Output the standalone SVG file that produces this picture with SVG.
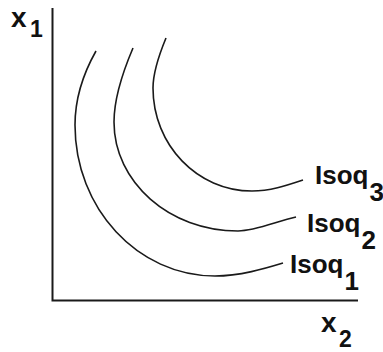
<svg xmlns="http://www.w3.org/2000/svg" width="383" height="352" viewBox="0 0 383 352">
<style>
.axis{stroke:#1a1a1a;stroke-width:2;fill:none}
.iso{stroke:#1a1a1a;stroke-width:1.6;fill:none}
.lbl{font-family:"Liberation Sans",Arial,sans-serif;font-weight:bold;font-size:26px;fill:#111}
.ax{font-family:"Liberation Sans",Arial,sans-serif;font-weight:bold;font-size:28px;fill:#111}
.sub{font-size:23px}
</style>
<rect width="383" height="352" fill="#fff"/>
<g id="axes">
<path class="axis" d="M52.5,8 V300.5 H358"/>
</g>
<g id="connectors">
<path id="curve1" class="iso" d="M96,51 C83,74 75,99 75,125 C75,208.4 137.7,276 215,276 C240,276 264.6,268.6 283,263"/>
<path id="curve2" class="iso" d="M133,48 C123.2,71 114,97 114,122 C114,182.2 169.5,231 238,231 C256,231 276.5,221.3 296,217"/>
<path id="curve3" class="iso" d="M166,38 C159.5,53.7 153,71 153,88 C153,144.9 197.3,191 252,191 C270,191 285,186 303,180"/>
</g>
<g id="label-x1"><text class="ax" x="11" y="27">x<tspan class="sub" x="30" y="37">1</tspan></text></g>
<g id="label-x2"><text class="ax" x="321" y="332">x<tspan class="sub" x="339" y="347">2</tspan></text></g>
<g id="label-isoq1"><text class="lbl" x="290" y="273">Isoq<tspan dx="1" dy="17">1</tspan></text></g>
<g id="label-isoq2"><text class="lbl" x="307" y="232">Isoq<tspan dx="1" dy="17">2</tspan></text></g>
<g id="label-isoq3"><text class="lbl" x="315" y="184">Isoq<tspan dx="1" dy="17">3</tspan></text></g>
</svg>
